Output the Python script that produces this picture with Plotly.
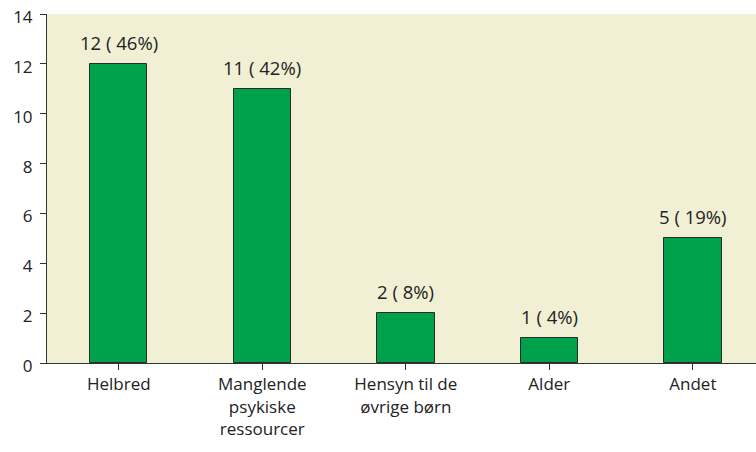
import plotly.graph_objects as go

categories = ["Helbred", "Manglende<br>psykiske<br>ressourcer", "Hensyn til de<br>øvrige børn", "Alder", "Andet"]
values = [12, 11, 2, 1, 5]
labels = ["12 ( 46%)", "11 ( 42%)", "2 ( 8%)", "1 ( 4%)", "5 ( 19%)"]
yticks = [0, 2, 4, 6, 8, 10, 12, 14]

fig = go.Figure()
fig.add_trace(go.Bar(
    x=list(range(len(categories))), y=values, width=0.4,
    marker=dict(color="#00A14B", line=dict(color="#2b2b2b", width=1)),
    hoverinfo="skip",
))
for i, (v, t) in enumerate(zip(values, labels)):
    fig.add_annotation(x=i, y=v, text=t, showarrow=False, yanchor="bottom", yshift=7,
                       font=dict(size=18.5, color="#222"))

fig.update_layout(
    width=756, height=452,
    margin=dict(l=47, r=0, t=14, b=89),
    paper_bgcolor="white", plot_bgcolor="#F1F0D4",
    font=dict(family="Open Sans", size=17, color="#222"),
    showlegend=False,
    bargap=0,
)
fig.update_xaxes(
    range=[-0.5, 4.44], tickmode="array", tickvals=list(range(len(categories))),
    ticktext=categories, ticks="outside", tickson="boundaries", ticklen=6,
    tickcolor="#333", showline=True, linecolor="#333", linewidth=1,
    showgrid=False, zeroline=False, automargin=False,
)
fig.update_yaxes(
    range=[0, 14], tickvals=yticks, ticks="outside", ticklen=6, tickcolor="#333",
    showline=True, linecolor="#333", linewidth=1, showgrid=False, zeroline=False,
    ticklabelstandoff=4, automargin=False, ticklabeloverflow="allow",
    ticklabelshift=3,
)
fig.write_html("out.html", config={"displayModeBar": False},
               post_script="document.body.style.margin='0';")
